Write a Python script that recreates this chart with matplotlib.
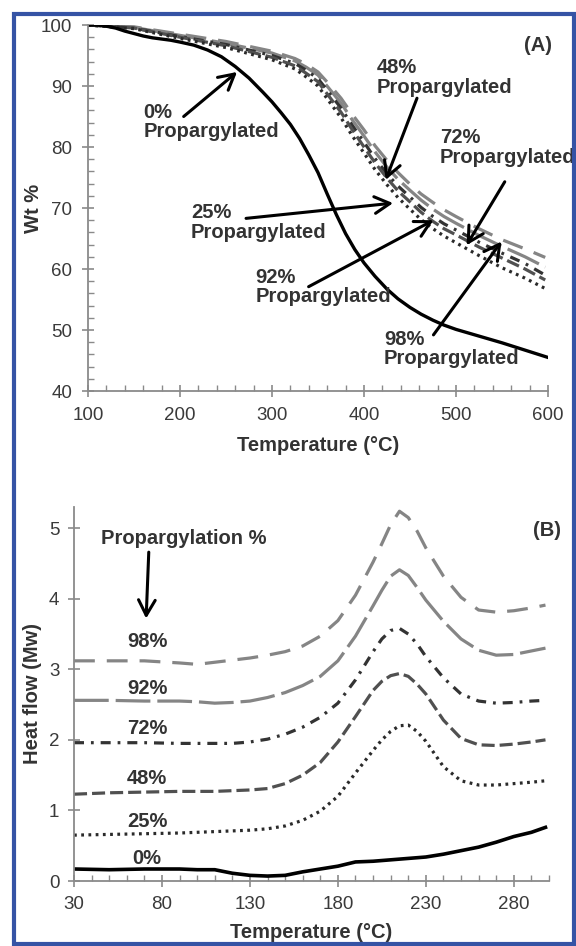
import matplotlib
matplotlib.use("Agg")
import matplotlib.pyplot as plt
from matplotlib.patches import Rectangle
from matplotlib.ticker import MultipleLocator, FixedLocator

plt.rcParams['font.family'] = ['Liberation Sans', 'DejaVu Sans']
plt.rcParams['lines.scale_dashes'] = False

# ---- panel A: TGA ----
temp_a0 = [100, 110, 120, 130, 140, 150, 160, 170, 180, 190, 200, 215, 230,
           245, 260, 275, 290, 300, 310, 320, 330, 340, 350, 360, 370, 380,
           390, 400, 412, 425, 437, 450, 462, 475, 487, 500, 525, 550, 575, 600]
wt_0 = [100, 100, 99.8, 99.5, 99.0, 98.6, 98.2, 97.9, 97.7, 97.5, 97.2, 96.7,
        95.9, 94.8, 93.2, 91.3, 89.0, 87.4, 85.6, 83.7, 81.4, 78.7, 75.8, 72.3,
        68.9, 65.8, 63.2, 61.0, 58.8, 56.7, 55.1, 53.7, 52.6, 51.6, 50.8, 50.1,
        49.0, 47.9, 46.7, 45.5]

temp_a = [100, 150, 200, 250, 300, 325, 337, 350, 362, 375, 387, 400, 412,
          425, 437, 450, 462, 475, 487, 500, 525, 550, 575, 597]
wt_98 = [100, 99.7, 98.5, 97.3, 95.7, 94.5, 93.6, 92.3, 90.3, 88.0, 85.4, 82.8,
         80.2, 77.8, 75.8, 73.9, 72.3, 70.9, 69.7, 68.6, 66.6, 64.8, 63.3, 61.9]
wt_92 = [100, 99.6, 98.3, 97.0, 95.4, 94.1, 93.1, 91.8, 89.6, 87.2, 84.5, 81.8,
         79.2, 76.7, 74.7, 72.9, 71.3, 69.8, 68.6, 67.5, 65.5, 63.7, 62.0, 60.3]
wt_72 = [100, 99.5, 98.1, 96.8, 95.0, 93.7, 92.6, 91.2, 88.9, 86.4, 83.6, 80.8,
         78.1, 75.6, 73.6, 71.8, 70.1, 68.6, 67.4, 66.4, 64.4, 62.6, 60.9, 59.0]
wt_48 = [100, 99.5, 98.0, 96.6, 94.7, 93.3, 92.1, 90.7, 88.3, 85.7, 82.9, 80.0,
         77.4, 74.9, 72.8, 71.0, 69.3, 67.8, 66.6, 65.6, 63.6, 61.8, 60.0, 58.2]
wt_25 = [100, 99.4, 97.8, 96.3, 94.3, 92.8, 91.5, 90.0, 87.5, 84.8, 81.9, 79.0,
         76.3, 73.8, 71.7, 69.8, 68.1, 66.6, 65.4, 64.3, 62.2, 60.2, 58.5, 56.8]

# ---- panel B: DSC ----
temp_b = [30, 50, 70, 90, 100, 110, 120, 130, 140, 150, 160, 170, 180, 190,
          200, 205, 210, 215, 220, 225, 230, 240, 250, 260, 270, 280, 290, 298]
hf_0 = [0.17, 0.16, 0.17, 0.17, 0.16, 0.16, 0.11, 0.08, 0.07, 0.08, 0.13, 0.17,
        0.21, 0.27, 0.28, 0.29, 0.30, 0.31, 0.32, 0.33, 0.34, 0.38, 0.43, 0.48,
        0.55, 0.63, 0.69, 0.76]
hf_25 = [0.65, 0.66, 0.67, 0.68, 0.69, 0.70, 0.71, 0.72, 0.74, 0.78, 0.86, 0.99,
         1.20, 1.53, 1.85, 2.00, 2.12, 2.20, 2.21, 2.12, 1.98, 1.62, 1.42, 1.36,
         1.36, 1.38, 1.40, 1.42]
hf_48 = [1.23, 1.25, 1.26, 1.27, 1.27, 1.27, 1.28, 1.29, 1.31, 1.38, 1.50, 1.68,
         1.97, 2.33, 2.70, 2.83, 2.91, 2.94, 2.90, 2.79, 2.65, 2.28, 2.02, 1.93,
         1.92, 1.94, 1.97, 2.00]
hf_72 = [1.96, 1.96, 1.96, 1.95, 1.95, 1.95, 1.95, 1.97, 2.01, 2.08, 2.18, 2.32,
         2.52, 2.85, 3.25, 3.43, 3.55, 3.58, 3.50, 3.36, 3.18, 2.88, 2.65, 2.55,
         2.52, 2.53, 2.55, 2.56]
hf_92 = [2.56, 2.56, 2.55, 2.55, 2.54, 2.52, 2.53, 2.55, 2.60, 2.67, 2.77, 2.90,
         3.12, 3.47, 3.90, 4.12, 4.32, 4.41, 4.33, 4.16, 3.98, 3.68, 3.43, 3.27,
         3.20, 3.21, 3.26, 3.30]
hf_98 = [3.12, 3.12, 3.12, 3.09, 3.07, 3.10, 3.13, 3.16, 3.20, 3.25, 3.33, 3.47,
         3.69, 4.05, 4.52, 4.78, 5.05, 5.24, 5.15, 4.96, 4.72, 4.32, 4.02, 3.84,
         3.81, 3.83, 3.87, 3.91]
labels_b = ['98%', '92%', '72%', '48%', '25%', '0%']
label_y_b = [3.39, 2.73, 2.16, 1.45, 0.84, 0.32]

# line styles (dashes in points)
st = {
    '98': dict(color='#858585', dashes=(15, 8.6)),
    '92': dict(color='#858585', dashes=(25, 5)),
    '72': dict(color='#333333', dashes=(7.2, 5, 2, 5)),
    '48': dict(color='#505050', dashes=(9.4, 3.6)),
    '25': dict(color='#2a2a2a', dashes=(2, 3.2)),
    '0': dict(color='black'),
}
lw = 2.3
axis_gray = '#8a8a8a'
txt = '#333333'
fs = 14.5


def style_axes(ax):
    for s in ['top', 'right']:
        ax.spines[s].set_visible(False)
    for s in ['left', 'bottom']:
        ax.spines[s].set_color(axis_gray)
        ax.spines[s].set_linewidth(1.3)
    ax.tick_params(which='major', direction='inout', length=8, width=1.2,
                   color=axis_gray, labelsize=13.5, labelcolor='#3a3a3a')
    ax.tick_params(which='minor', direction='in', length=4, width=1.0,
                   color=axis_gray)


fig = plt.figure(figsize=(5.76, 9.46), dpi=100)

# ---------- A ----------
axA = fig.add_axes([88 / 576, 1 - 391 / 946, 460 / 576, 366 / 946])
axA.plot(temp_a, wt_98, lw=lw, **st['98'])
axA.plot(temp_a, wt_92, lw=lw, **st['92'])
axA.plot(temp_a, wt_72, lw=lw, **st['72'])
axA.plot(temp_a, wt_48, lw=lw, **st['48'])
axA.plot(temp_a, wt_25, lw=lw, **st['25'])
axA.plot(temp_a0, wt_0, lw=2.4, **st['0'])
axA.set_xlim(100, 600)
axA.set_ylim(40, 100)
axA.xaxis.set_major_locator(MultipleLocator(100))
axA.xaxis.set_minor_locator(MultipleLocator(20))
axA.yaxis.set_major_locator(MultipleLocator(10))
axA.yaxis.set_minor_locator(MultipleLocator(2))
style_axes(axA)
axA.tick_params(axis='x', which='major', pad=7.5)
axA.tick_params(axis='y', which='major', pad=7.5)
axA.set_xlabel('Temperature (\u00b0C)', fontsize=fs, fontweight='bold',
               color=txt, labelpad=9)
axA.set_ylabel('Wt %', fontsize=fs, fontweight='bold', color=txt, labelpad=-2)
axA.text(589, 96.7, '(A)', fontsize=fs, fontweight='bold', ha='center',
         va='center', color=txt)

ann_a = [
    ('0%\nPropargylated', 160, 84.1, 204, 85.0, 262, 92.3),
    ('48%\nPropargylated', 414, 91.4, 457.6, 88.0, 423.6, 74.6),
    ('72%\nPropargylated', 482.6, 79.9, 553, 74.3, 511.5, 63.9),
    ('25%\nPropargylated', 212, 67.6, 271.8, 68.3, 431.6, 70.8),
    ('92%\nPropargylated', 281.7, 57.1, 339.8, 57.1, 475.5, 68.0),
    ('98%\nPropargylated', 421.7, 46.9, 475.5, 49.2, 549.5, 64.5),
]
arrow = dict(arrowstyle='->,head_length=0.55,head_width=0.3', lw=2.2,
             color='black', shrinkA=0, shrinkB=0, mutation_scale=20)
for s, tx, ty, x0, y0, x1, y1 in ann_a:
    axA.text(tx, ty, s, fontsize=fs, fontweight='bold', ha='left',
             va='center', color=txt, linespacing=1.02)
    axA.annotate('', xy=(x1, y1), xytext=(x0, y0), arrowprops=arrow)

# ---------- B ----------
axB = fig.add_axes([74 / 576, 1 - 881 / 946, 475 / 576, 374 / 946])
axB.plot(temp_b, hf_98, lw=lw, **st['98'])
axB.plot(temp_b, hf_92, lw=lw, **st['92'])
axB.plot(temp_b, hf_72, lw=lw, **st['72'])
axB.plot(temp_b, hf_48, lw=lw, **st['48'])
axB.plot(temp_b, hf_25, lw=lw, **st['25'])
axB.plot(temp_b, hf_0, lw=2.6, **st['0'])
axB.set_xlim(30, 300)
axB.set_ylim(0, 5.3)
axB.xaxis.set_major_locator(FixedLocator([30, 80, 130, 180, 230, 280]))
axB.xaxis.set_minor_locator(MultipleLocator(10))
axB.yaxis.set_major_locator(MultipleLocator(1))
style_axes(axB)
axB.tick_params(axis='x', which='major', pad=7)
axB.tick_params(axis='y', which='major', pad=6.5)
axB.set_xlabel('Temperature (\u00b0C)', fontsize=fs, fontweight='bold',
               color=txt, labelpad=7)
axB.set_ylabel('Heat flow (Mw)', fontsize=fs, fontweight='bold', color=txt,
               labelpad=5)
for lab, yy in zip(labels_b, label_y_b):
    axB.text(71.5, yy, lab, fontsize=fs, fontweight='bold', ha='center',
             va='center', color=txt)
axB.text(92.5, 4.85, 'Propargylation %', fontsize=fs, fontweight='bold',
         ha='center', va='center', color=txt)
axB.annotate('', xy=(71, 3.72), xytext=(72.5, 4.66), arrowprops=arrow)
axB.text(299, 4.97, '(B)', fontsize=fs, fontweight='bold', ha='center',
         va='center', color=txt)

# blue frame
fig.patches.append(Rectangle((14 / 576, 2 / 946), 560 / 576, 930 / 946,
                             transform=fig.transFigure, fill=False,
                             edgecolor='#3553a5', linewidth=3))

fig.savefig('out.png', dpi=100)
